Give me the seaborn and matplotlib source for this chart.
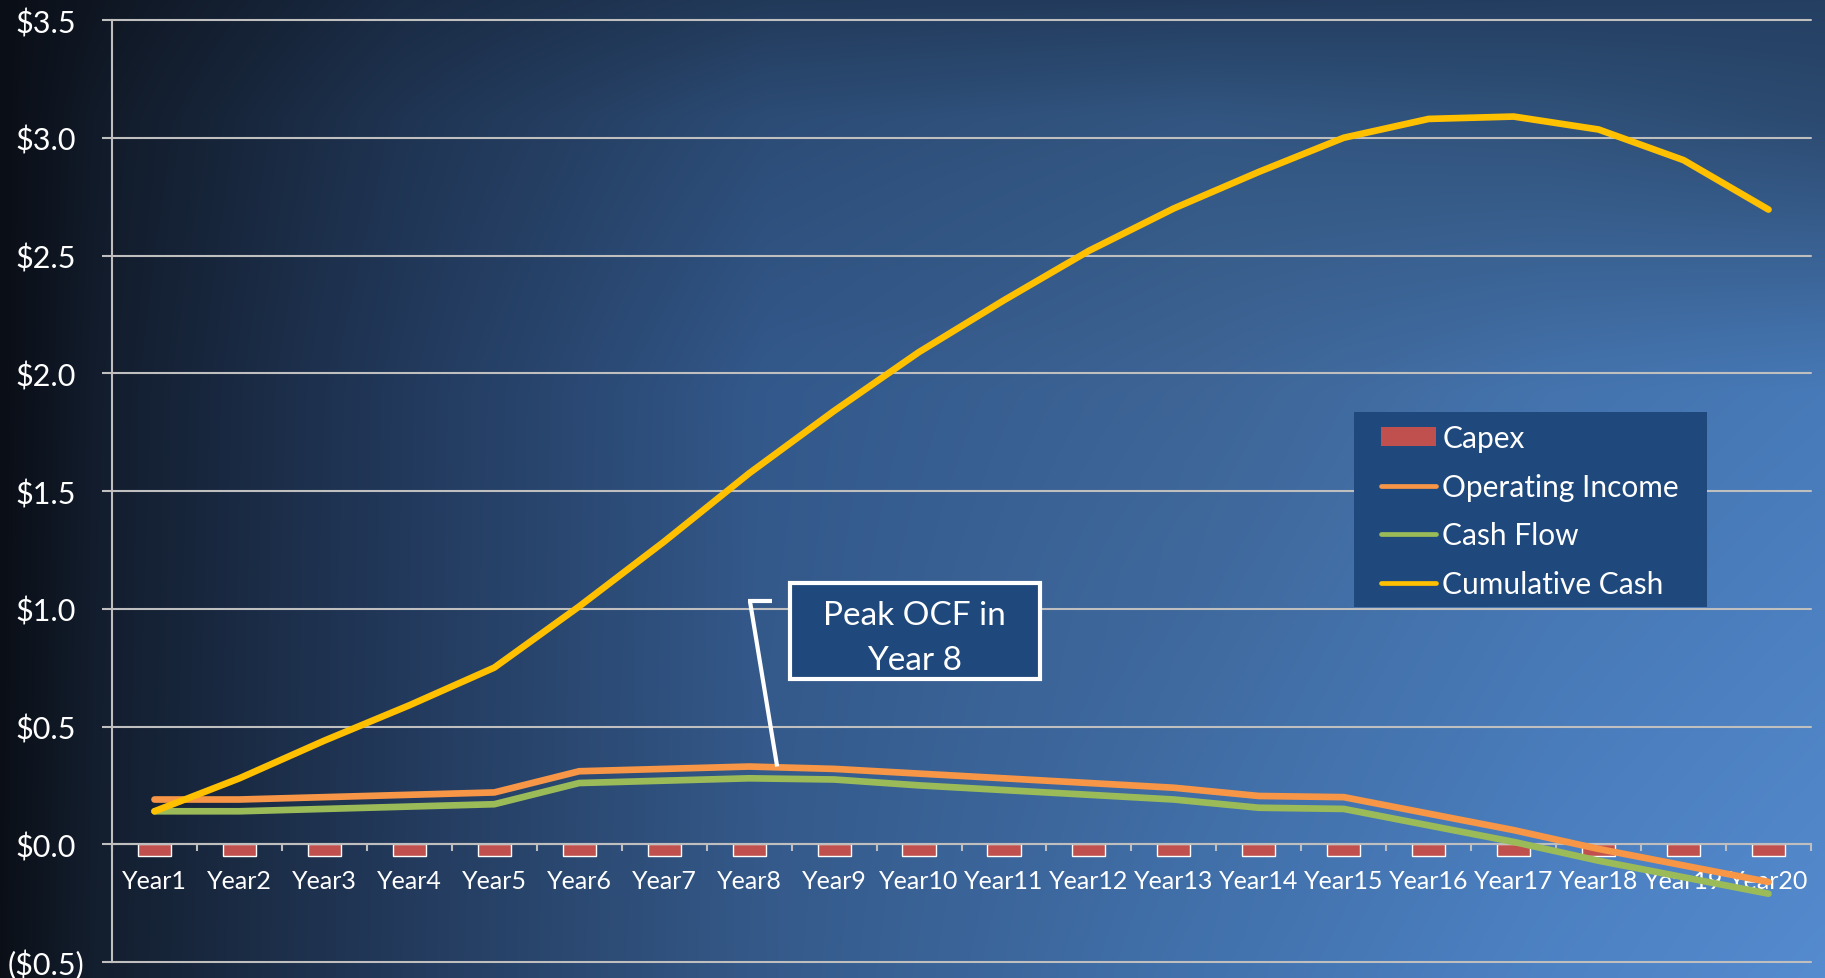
import numpy as np
import pandas as pd
import seaborn as sns
import matplotlib
matplotlib.use("Agg")
import matplotlib.pyplot as plt
from matplotlib.patches import Patch, Rectangle
from matplotlib.lines import Line2D
from matplotlib.colors import to_rgb
from matplotlib.transforms import ScaledTranslation

# ---- data ($ millions) ----
years = [f"Year{i}" for i in range(1, 21)]
capex = [-0.05] * 20
operating_income = [0.19, 0.19, 0.20, 0.21, 0.22, 0.31, 0.32, 0.33, 0.32, 0.30,
                    0.28, 0.26, 0.24, 0.205, 0.20, 0.13, 0.06, -0.02, -0.09, -0.16]
cash_flow = [0.14, 0.14, 0.15, 0.16, 0.17, 0.26, 0.27, 0.28, 0.275, 0.25,
             0.23, 0.21, 0.19, 0.155, 0.15, 0.08, 0.01, -0.07, -0.14, -0.21]
cumulative_cash = [0.14, 0.28, 0.44, 0.59, 0.75, 1.01, 1.285, 1.575, 1.84, 2.09,
                   2.31, 2.52, 2.70, 2.855, 3.00, 3.08, 3.09, 3.035, 2.905, 2.695]
y_ticks = [-0.5, 0.0, 0.5, 1.0, 1.5, 2.0, 2.5, 3.0, 3.5]
y_tick_labels = ["($0.5)", "$0.0", "$0.5", "$1.0", "$1.5", "$2.0", "$2.5", "$3.0", "$3.5"]
series_names = ["Capex", "Operating Income", "Cash Flow", "Cumulative Cash"]
peak_note = "Peak OCF in\nYear 8"
peak_year_index = 7

C_CAPEX = "#c0504d"
C_OI = "#f79646"
C_CF = "#9bbb59"
C_CUM = "#ffc000"
C_GRID = "#bfbfbf"
C_BOX = "#1f497d"

sns.set_theme(style="white")
plt.rcParams["font.family"] = ["Lato", "DejaVu Sans"]
plt.rcParams["text.color"] = "white"

W, H, DPI = 1825, 979, 100
fig = plt.figure(figsize=(W / DPI, H / DPI), dpi=DPI)

# ---- background gradient ----
gx = [0.0, 0.05, 0.22, 0.42, 0.66, 0.85, 1.0]
gy = [0.0, 0.12, 0.40, 1.0]
grid_rows = [
    ["#0a0e16", "#0f1622", "#1a2b44", "#223a5a", "#233c5e", "#243e61", "#243f62"],
    ["#0a0e16", "#111a28", "#1f3452", "#2c4c76", "#325681", "#30527a", "#2c4a70"],
    ["#0a0e16", "#121c2c", "#22395c", "#33598c", "#3e6596", "#4473ad", "#477ab8"],
    ["#0b1018", "#131e2e", "#233a5c", "#355a8a", "#4272ad", "#4d82c4", "#558bcf"],
]
xs = np.linspace(0, 1, 400)
ys = np.linspace(0, 1, 220)
rows = []
for r in grid_rows:
    rgb = np.array([to_rgb(c) for c in r])
    rows.append(np.stack([np.interp(xs, gx, rgb[:, k]) for k in range(3)], axis=-1))
rows = np.array(rows)
img = np.empty((len(ys), len(xs), 3))
for k in range(3):
    for j in range(len(xs)):
        img[:, j, k] = np.interp(ys, gy, rows[:, j, k])
bg = fig.add_axes([0, 0, 1, 1], zorder=-10)
bg.imshow(img, aspect="auto", extent=[0, 1, 1, 0], interpolation="bilinear")
bg.set_axis_off()

# ---- main axes ----
ax = fig.add_axes([112 / W, 1 - 963 / H, (1811 - 112) / W, (963 - 21) / H])
ax.set_facecolor("none")

idx = np.arange(len(years))
sns.barplot(x=years, y=capex, color=C_CAPEX, saturation=1, width=0.39, ax=ax, zorder=2)
line_kw = dict(linewidth=4.8, solid_capstyle="round", solid_joinstyle="round")
sns.lineplot(x=idx, y=operating_income, color=C_OI, ax=ax, zorder=3, **line_kw)
sns.lineplot(x=idx, y=cash_flow, color=C_CF, ax=ax, zorder=4, **line_kw)
sns.lineplot(x=idx, y=cumulative_cash, color=C_CUM, ax=ax, zorder=5, **line_kw)

ax.set_xlim(-0.5, len(years) - 0.5)
ax.set_ylim(-0.5, 3.5)
ax.set_xlabel("")
ax.set_ylabel("")

# y axis / gridlines
ax.set_yticks(y_ticks)
ax.set_yticklabels(y_tick_labels)
ax.yaxis.grid(True, color=C_GRID, linewidth=1.5, zorder=0)
for gl in ax.yaxis.get_gridlines():
    gl.set_clip_on(False)
ax.tick_params(axis="y", which="major", direction="out", length=7.2, width=1.5,
               color=C_GRID, labelcolor="white", labelsize=22, pad=13, left=True)
for lbl, txt in zip(ax.get_yticklabels(), y_tick_labels):
    if not txt.startswith("("):
        lbl.set_transform(lbl.get_transform() + ScaledTranslation(-6 / 72, 0, fig.dpi_scale_trans))

# x axis sits on zero
ax.spines["bottom"].set_position(("data", 0))
ax.spines["bottom"].set_color(C_GRID)
ax.spines["bottom"].set_linewidth(1.5)
ax.spines["left"].set_color(C_GRID)
ax.spines["left"].set_linewidth(1.5)
ax.spines["top"].set_visible(False)
ax.spines["right"].set_visible(False)
ax.set_xticks(idx)
ax.set_xticklabels(years)
ax.set_xticks(np.arange(-0.5, len(years), 1.0), minor=True)
ax.tick_params(axis="x", which="major", length=0, labelcolor="white", labelsize=18, pad=18)
ax.tick_params(axis="x", which="minor", direction="out", length=5, width=1.5,
               color=C_GRID, bottom=True)

# ---- legend ----
ax.add_patch(Rectangle((1354 / W, 1 - 608 / H), (1707 - 1354) / W, (608 - 413) / H,
                       transform=fig.transFigure, facecolor=C_BOX, edgecolor="none",
                       zorder=9, clip_on=False))
handles = [
    Patch(facecolor=C_CAPEX, edgecolor="none"),
    Line2D([], [], color=C_OI, linewidth=3.4, solid_capstyle="round"),
    Line2D([], [], color=C_CF, linewidth=3.4, solid_capstyle="round"),
    Line2D([], [], color=C_CUM, linewidth=3.4, solid_capstyle="round"),
]
leg = ax.legend(handles, series_names, loc="center left",
                bbox_to_anchor=(1381 / W, 1 - 512 / H), bbox_transform=fig.transFigure,
                frameon=False, fontsize=21.5, labelcolor="white", handlelength=1.85,
                handleheight=0.6, handletextpad=0.2, labelspacing=0.7, borderpad=0,
                borderaxespad=0)
leg.set_zorder(10)

# ---- callout ----
px_x = (1811 - 112) / len(years)
px_y = (963 - 21) / 4.0
def dx(p):
    return p / px_x
def dy(p):
    return p / px_y

box_cx, box_cy = 8.95, 0.904
box_w, box_h = dx(250), dy(96)
ax.add_patch(Rectangle((box_cx - box_w / 2, box_cy - box_h / 2), box_w, box_h,
                       facecolor=C_BOX, edgecolor="white", linewidth=3, zorder=8,
                       clip_on=False))
ax.text(box_cx, box_cy - dy(6), peak_note, ha="center", va="center", fontsize=24,
        color="white", linespacing=1.62, zorder=9)
tip_x = peak_year_index + 0.33
tip_y = operating_income[peak_year_index]
top_y = box_cy + dy(30)
ax.plot([peak_year_index + 0.01, tip_x], [top_y, tip_y], color="white", linewidth=3, zorder=7,
        solid_capstyle="butt")
ax.plot([peak_year_index - 0.01, peak_year_index + 0.27], [top_y, top_y], color="white",
        linewidth=3, zorder=7, solid_capstyle="butt")

fig.savefig("out.png", dpi=DPI)
